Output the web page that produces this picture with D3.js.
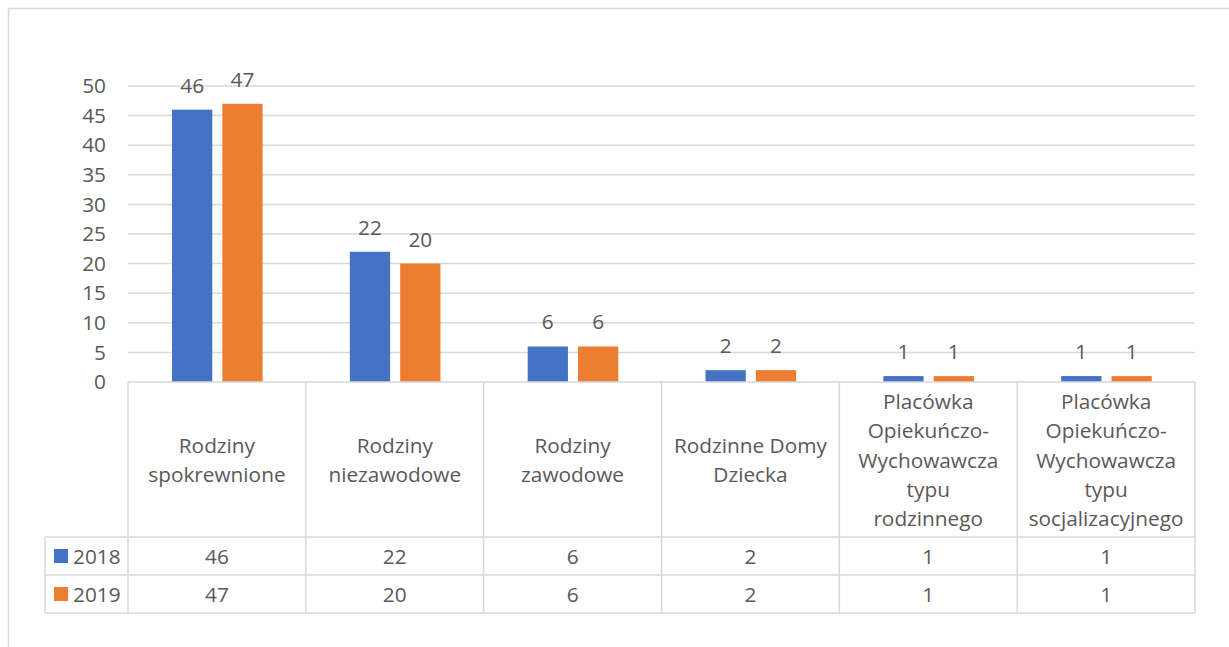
<!DOCTYPE html>
<html><head><meta charset="utf-8">
<script src="https://cdn.jsdelivr.net/npm/d3@7"></script>
<style>body{margin:0;background:#fff}svg{display:block}text{font-family:"Open Sans",sans-serif;fill:#595959}</style>
</head><body>
<svg id="c" width="1229" height="647"></svg>
<script>
const categories = ["Rodziny\nspokrewnione","Rodziny\nniezawodowe","Rodziny\nzawodowe","Rodzinne Domy\nDziecka","Placówka\nOpiekuńczo-\nWychowawcza\ntypu\nrodzinnego","Placówka\nOpiekuńczo-\nWychowawcza\ntypu\nsocjalizacyjnego"];
const seriesNames = ["2018","2019"];
const values2018 = [46,22,6,2,1,1];
const values2019 = [47,20,6,2,1,1];
const yTicks = [0,5,10,15,20,25,30,35,40,45,50];
const colors = ["#4472C4","#ED7D31"];

const series = [values2018, values2019];
const svg = d3.select("#c");
const grid = "#d9d9d9";
const fs = 20.8;
svg.append("rect").attr("x",8.5).attr("y",8.5).attr("width",1400).attr("height",800).attr("fill","none").attr("stroke",grid).attr("stroke-width",1.5);

const L=128,R=1195,T=86,B=382;
const y = d3.scaleLinear().domain([0,50]).range([B,T]);
const x = d3.scaleBand().domain(categories.map((d,i)=>i)).range([L,R]);
const bw = x.bandwidth();
const x1 = d3.scaleBand().domain(seriesNames).range([0.2475*bw,0.757*bw]).paddingInner(0.2);

// grid
svg.append("g").selectAll("line").data(yTicks.filter(t=>t>0)).join("line")
  .attr("x1",L).attr("x2",R).attr("y1",d=>y(d)).attr("y2",d=>y(d))
  .attr("stroke",grid).attr("stroke-width",1.5);

// y axis
const ya = svg.append("g").attr("transform",`translate(${L},0)`).call(d3.axisLeft(y).tickValues(yTicks).tickSize(0).tickPadding(22));
ya.select(".domain").remove();
ya.selectAll("text").attr("font-size",fs).attr("fill","#595959").attr("font-family","Open Sans");

// bars
series.forEach((vals,s)=>{
  svg.append("g").selectAll("rect").data(vals).join("rect")
    .attr("x",(d,i)=>x(i)+x1(seriesNames[s])).attr("width",x1.bandwidth())
    .attr("y",d=>y(d)).attr("height",d=>B-y(d)).attr("fill",colors[s]);
  svg.append("g").selectAll("text").data(vals).join("text")
    .attr("x",(d,i)=>x(i)+x1(seriesNames[s])+x1.bandwidth()/2).attr("y",d=>y(d)-25)
    .attr("text-anchor","middle").attr("dominant-baseline","central").attr("font-size",fs).text(d=>d);
});

// table
const rowTop=[B,537,575,613];
const tg = svg.append("g").attr("stroke",grid).attr("stroke-width",1.5);
tg.append("line").attr("x1",L).attr("x2",R).attr("y1",B).attr("y2",B);
[537,575,613].forEach(v=>tg.append("line").attr("x1",45).attr("x2",R).attr("y1",v).attr("y2",v));
tg.append("line").attr("x1",45).attr("x2",45).attr("y1",537).attr("y2",613);
d3.range(categories.length+1).forEach(i=>{
  const xx = i<categories.length? x(i): R;
  tg.append("line").attr("x1",xx).attr("x2",xx).attr("y1",B).attr("y2",613);
});

// category labels
categories.forEach((c,i)=>{
  const lines=c.split("\n"); const lh=29.2; const cy=(B+537)/2;
  const t=svg.append("text").attr("text-anchor","middle").attr("font-size",fs);
  lines.forEach((ln,k)=>t.append("tspan").attr("x",x(i)+bw/2).attr("y",cy+(k-(lines.length-1)/2)*lh).attr("dominant-baseline","central").text(ln));
});

// rows
series.forEach((vals,s)=>{
  const cy=(rowTop[s+1]+rowTop[s+2])/2;
  svg.append("rect").attr("x",54).attr("y",cy-7).attr("width",14).attr("height",14).attr("fill",colors[s]);
  svg.append("text").attr("x",73).attr("y",cy).attr("dominant-baseline","central").attr("font-size",fs).text(seriesNames[s]);
  svg.append("g").selectAll("text").data(vals).join("text")
    .attr("x",(d,i)=>x(i)+bw/2).attr("y",cy).attr("text-anchor","middle").attr("dominant-baseline","central").attr("font-size",fs).text(d=>d);
});
</script>
</body></html>
